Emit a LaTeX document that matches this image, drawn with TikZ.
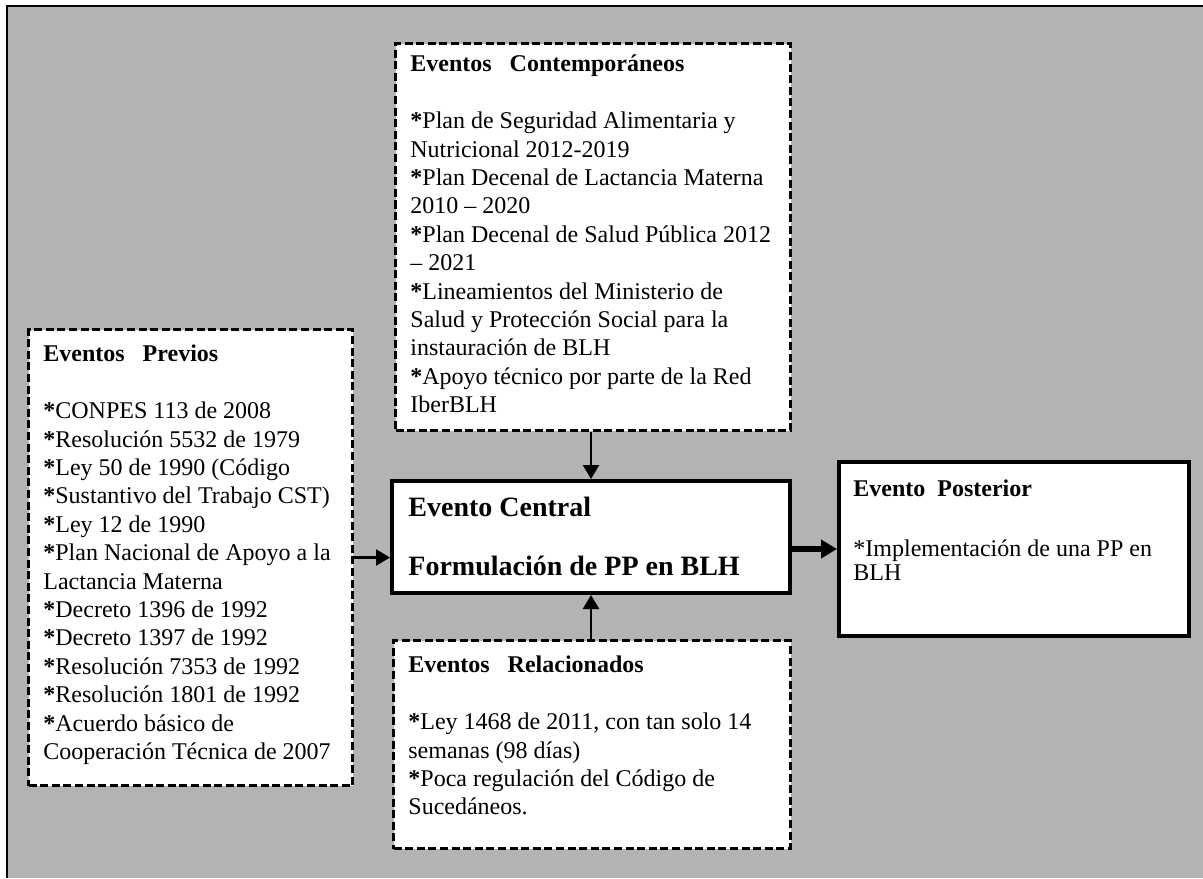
\documentclass[tikz,border=0pt]{standalone}
\usepackage{fontspec}
\setmainfont{Liberation Serif}
\usepackage{xcolor}
\definecolor{colorBackground}{RGB}{179,179,179}
\colorlet{colorBox}{white}
\usepackage{tikz}
\usetikzlibrary{arrows.meta, positioning}
\tikzset{dashbox/.style={draw, fill=colorBox, line width=1.5pt, dash pattern=on 4pt off 1.8pt, inner sep=0pt, anchor=north west},
  solidbox/.style={draw, fill=colorBox, line width=2pt, inner sep=0pt, anchor=north west},
  boxtext/.style={inner sep=0pt, align=left, font=\fontsize{12}{14.2}\selectfont},
  link/.style={-{Triangle[length=7pt,width=8pt]}, line width=1.2pt},
  biglink/.style={-{Triangle[length=8pt,width=9pt]}, line width=3pt}}
\newcommand{\bast}{\textbf{*}}

\begin{document}
\begin{tikzpicture}[x=0.5pt, y=-0.5pt]
\useasboundingbox (0,0) rectangle (1203,878);
\fill [colorBackground] (7,6) rectangle (1203,878);
\draw [line width=1pt] (7,878) -- (7,6) -- (1203,6);
\node[dashbox, minimum width=162pt, minimum height=228pt] (previos) at (27,328) {};
\node[dashbox, minimum width=197.5pt, minimum height=193.5pt] (contemp) at (394,42) {};
\node[solidbox, minimum width=199pt, minimum height=56pt] (central) at (390,479) {};
\node[dashbox, minimum width=198.5pt, minimum height=104pt] (relac) at (392,639) {};
\node[solidbox, minimum width=175pt, minimum height=87pt] (posterior) at (837,460) {};
\node[boxtext, below right=8pt and 8pt of previos.north west] (previosText) {\textbf{Eventos~~~Previos}\\[14.6pt]\bast CONPES 113 de 2008\\\bast Resolución 5532 de 1979\\\bast Ley 50 de 1990 (Código\\\bast Sustantivo del Trabajo CST)\\\bast Ley 12 de 1990\\\bast Plan Nacional de Apoyo a la\\Lactancia Materna\\\bast Decreto 1396 de 1992\\\bast Decreto 1397 de 1992\\\bast Resolución 7353 de 1992\\\bast Resolución 1801 de 1992\\\bast Acuerdo básico de\\Cooperación Técnica de 2007};
\node[boxtext, below right=6pt and 8pt of contemp.north west] (contempText) {\textbf{Eventos~~~Contemporáneos}\\[14.6pt]\bast Plan de Seguridad Alimentaria y\\Nutricional 2012-2019\\\bast Plan Decenal de Lactancia Materna\\2010 -- 2020\\\bast Plan Decenal de Salud Pública 2012\\-- 2021\\\bast Lineamientos del Ministerio de\\Salud y Protección Social para la\\instauración de BLH\\\bast Apoyo técnico por parte de la Red\\IberBLH};
\node[boxtext, font=\fontsize{14}{17}\selectfont\bfseries, below right=9pt and 9pt of central.north west] (centralText) {Evento Central\\[12.5pt]Formulación de PP en BLH};
\node[boxtext, below right=8pt and 8pt of relac.north west] (relacText) {\textbf{Eventos~~~Relacionados}\\[14.6pt]\bast Ley 1468 de 2011, con tan solo 14\\semanas (98 días)\\\bast Poca regulación del Código de\\Sucedáneos.};
\node[boxtext, font=\fontsize{12}{12}\selectfont, below right=9.5pt and 8pt of posterior.north west] (posteriorText) {\textbf{Evento~~Posterior}\\[18pt]*Implementación de una PP en\\BLH};
\draw [link] (contemp.south -| central.north) -- (central.north);
\draw [link] (relac.north -| central.south) -- (central.south);
\draw [link] (previos.east) -- (previos.east -| central.west);
\draw [biglink] (central.east |- posterior.west) -- (posterior.west);
\end{tikzpicture}
\end{document}
